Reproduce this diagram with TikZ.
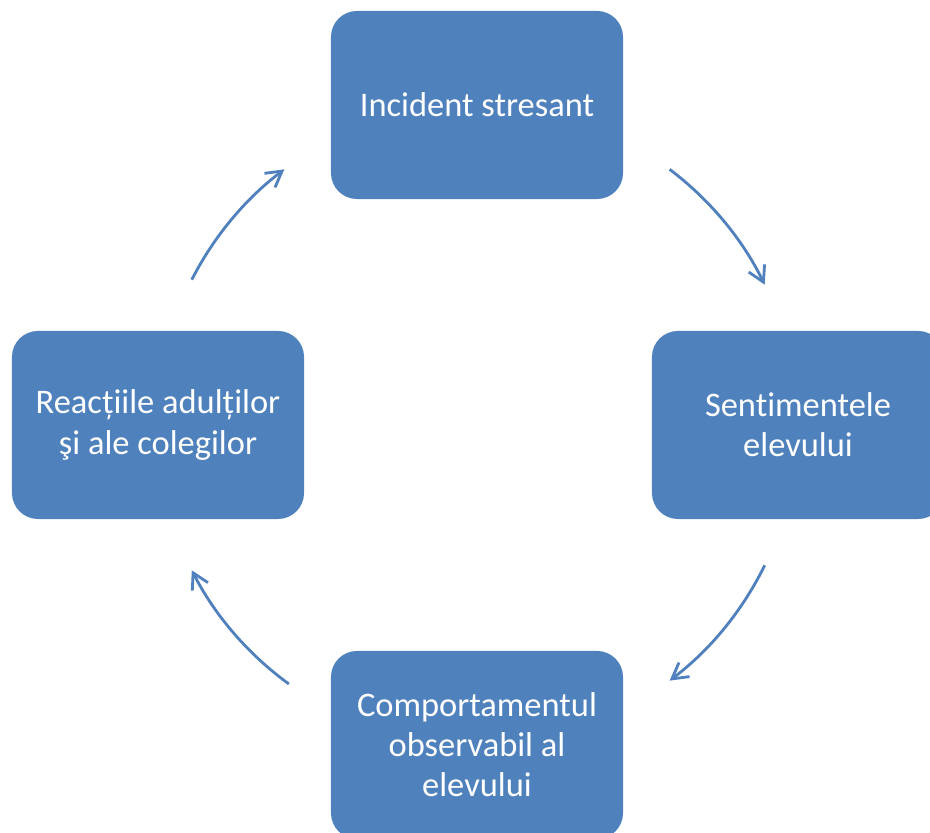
\documentclass[tikz,border=0pt]{standalone}
\usepackage{fontspec}
\setmainfont{Carlito}[Ligatures=NoCommon]
\usetikzlibrary{calc,arrows.meta}
\definecolor{StageBlue}{RGB}{79,129,189}
\definecolor{ArrowBlue}{RGB}{80,128,190}

\begin{document}
\begin{tikzpicture}[x=0.025cm,y=0.025cm,
    stage/.style={rectangle,rounded corners=0.65cm,fill=StageBlue,text=white,
        minimum width=7.3cm,minimum height=4.7cm,align=center,
        font=\fontsize{24.5pt}{28.5pt}\selectfont},
    turn/.style={draw=ArrowBlue,line width=2pt,
        -{Straight Barb[length=11pt,width=12.5pt,line width=2pt]}}]
    \clip (0,0) rectangle (930,833);
    % the four stages
    \node[stage] (incident) at (477,728) {Incident stresant};
    \node[stage] (feelings) at (798,408) {Sentimentele\\elevului};
    \node[stage] (behaviour) at (477,88) {Comportamentul\\observabil al\\elevului};
    \node[stage] (reactions) at (158,408) {Reacțiile adulților\\şi ale colegilor};
    % arrows round the circle
    \coordinate (centre) at (477,408);
    \foreach \name/\from/\to in {a/53/26,b/-26/-53,c/234/207,d/153/127}{
        \coordinate (\name) at ($(centre)+(\from:8cm)$);
        \draw[turn] (\name) arc[start angle=\from,end angle=\to,radius=8cm];
    }
\end{tikzpicture}
\end{document}
